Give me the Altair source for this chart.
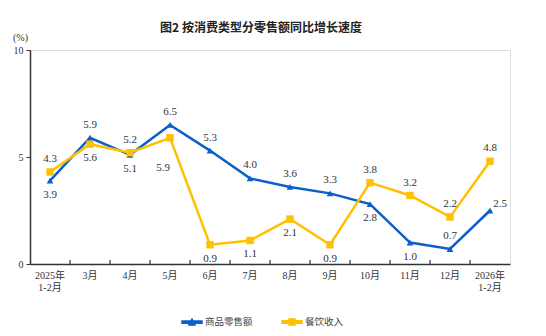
import altair as alt
import pandas as pd

categories = ["2025年\n1-2月", "3月", "4月", "5月", "6月", "7月", "8月", "9月",
              "10月", "11月", "12月", "2026年\n1-2月"]
series_names = ["商品零售额", "餐饮收入"]
goods = [3.9, 5.9, 5.1, 6.5, 5.3, 4.0, 3.6, 3.3, 2.8, 1.0, 0.7, 2.5]
catering = [4.3, 5.6, 5.2, 5.9, 0.9, 1.1, 2.1, 0.9, 3.8, 3.2, 2.2, 4.8]
goods_label_side = ["below", "above", "below", "above", "above", "above",
                    "above", "above", "below", "below", "above", "right"]
catering_label_side = ["above", "below", "above", "far_below", "below", "below",
                       "below", "below", "above", "above", "above", "above"]
y_ticks = [0, 5, 10]
colors = ["#0a5fc8", "#ffc000"]

rows = []
for s, vals, sides in [(series_names[0], goods, goods_label_side),
                       (series_names[1], catering, catering_label_side)]:
    for c, v, sd in zip(categories, vals, sides):
        rows.append({"month": c, "series": s, "value": v, "side": sd, "label": f"{v:.1f}"})
df = pd.DataFrame(rows)
tick_df = pd.DataFrame({"month": categories[1:]})

SERIF = "Liberation Serif, Noto Sans CJK SC"
CJK = "Noto Sans CJK SC"

x_scale = alt.Scale(type="band", domain=categories, paddingInner=0, paddingOuter=0)
x_axis = alt.Axis(title=None, labelExpr="split(datum.value, '\\n')", labelAngle=0,
                  ticks=False, domainColor="#333", domainWidth=1.5, bandPosition=0.5,
                  labelFont=SERIF, labelFontSize=10, labelColor="#333",
                  labelPadding=6, labelLineHeight=12)
x_enc = alt.X("month:N", scale=x_scale, bandPosition=0.5, axis=x_axis)
y_enc = alt.Y("value:Q", scale=alt.Scale(domain=[0, 10]),
              axis=alt.Axis(values=y_ticks, grid=False, title="(%)", titleAngle=0,
                            titleX=-10, titleY=-8, titleFont=SERIF, titleFontSize=10,
                            titleFontWeight="normal", titleColor="#333",
                            tickSize=4, tickColor="#333", domainColor="#333", domainWidth=1.5,
                            labelFont=SERIF, labelFontSize=10, labelColor="#333", labelPadding=3))

legend = alt.Legend(title=None, orient="none", legendX=151, legendY=261, direction="horizontal",
                    symbolSize=400, labelFont=CJK, labelFontSize=9.5, labelColor="#444",
                    columnPadding=26, labelOffset=2, padding=0)
color_enc = alt.Color("series:N", scale=alt.Scale(domain=series_names, range=colors), legend=legend)

tri_path = "M-1,-0.12H1V0.12H-1Z M-0.3,0.28L0,-0.3L0.3,0.28Z"
sq_path = "M-1,-0.12H1V0.12H-1Z M-0.3,-0.3H0.3V0.3H-0.3Z"

base = alt.Chart(df).encode(x=x_enc, y=y_enc)

lines = base.mark_line(strokeWidth=2.5).encode(color=color_enc, detail="series:N")
pts_goods = base.transform_filter(alt.datum.series == series_names[0]).mark_point(
    shape="triangle-up", filled=True, size=45, opacity=1).encode(color=color_enc)
pts_cat = base.transform_filter(alt.datum.series == series_names[1]).mark_point(
    shape="square", filled=True, size=55, opacity=1).encode(color=color_enc)
legend_layer = base.transform_filter("false").mark_point(filled=True, size=400, opacity=1).encode(
    color=color_enc,
    shape=alt.Shape("series:N", scale=alt.Scale(domain=series_names, range=[tri_path, sq_path]),
                    legend=legend))

def labels(side, dx, dy):
    return base.transform_filter(alt.datum.side == side).mark_text(
        font="Liberation Serif", fontSize=11, color="#333", dx=dx, dy=dy).encode(text="label:N")

ticks = alt.Chart(tick_df).mark_rule(color="#333", strokeWidth=1.2).encode(
    x=alt.X("month:N", scale=x_scale, bandPosition=0, axis=x_axis),
    y=alt.value(210), y2=alt.value(214))

chart = alt.layer(
    lines, pts_goods, pts_cat, legend_layer, ticks,
    labels("above", 0, -13), labels("below", 0, 14),
    labels("far_below", -7, 30), labels("right", 10, -7),
).properties(
    width=480, height=214,
    title=alt.TitleParams("图2 按消费类型分零售额同比增长速度", font=CJK, fontSize=12,
                          fontWeight="bold", color="#222", anchor="middle", offset=16, dx=-9, dy=19),
    autosize=alt.AutoSizeParams(type="none"),
    padding={"left": 30, "top": 50, "right": 36, "bottom": 72},
).configure_view(stroke="#999", strokeWidth=1.2).configure(background="white")

chart.save("out.html", embed_options={"renderer": "svg", "actions": False})
